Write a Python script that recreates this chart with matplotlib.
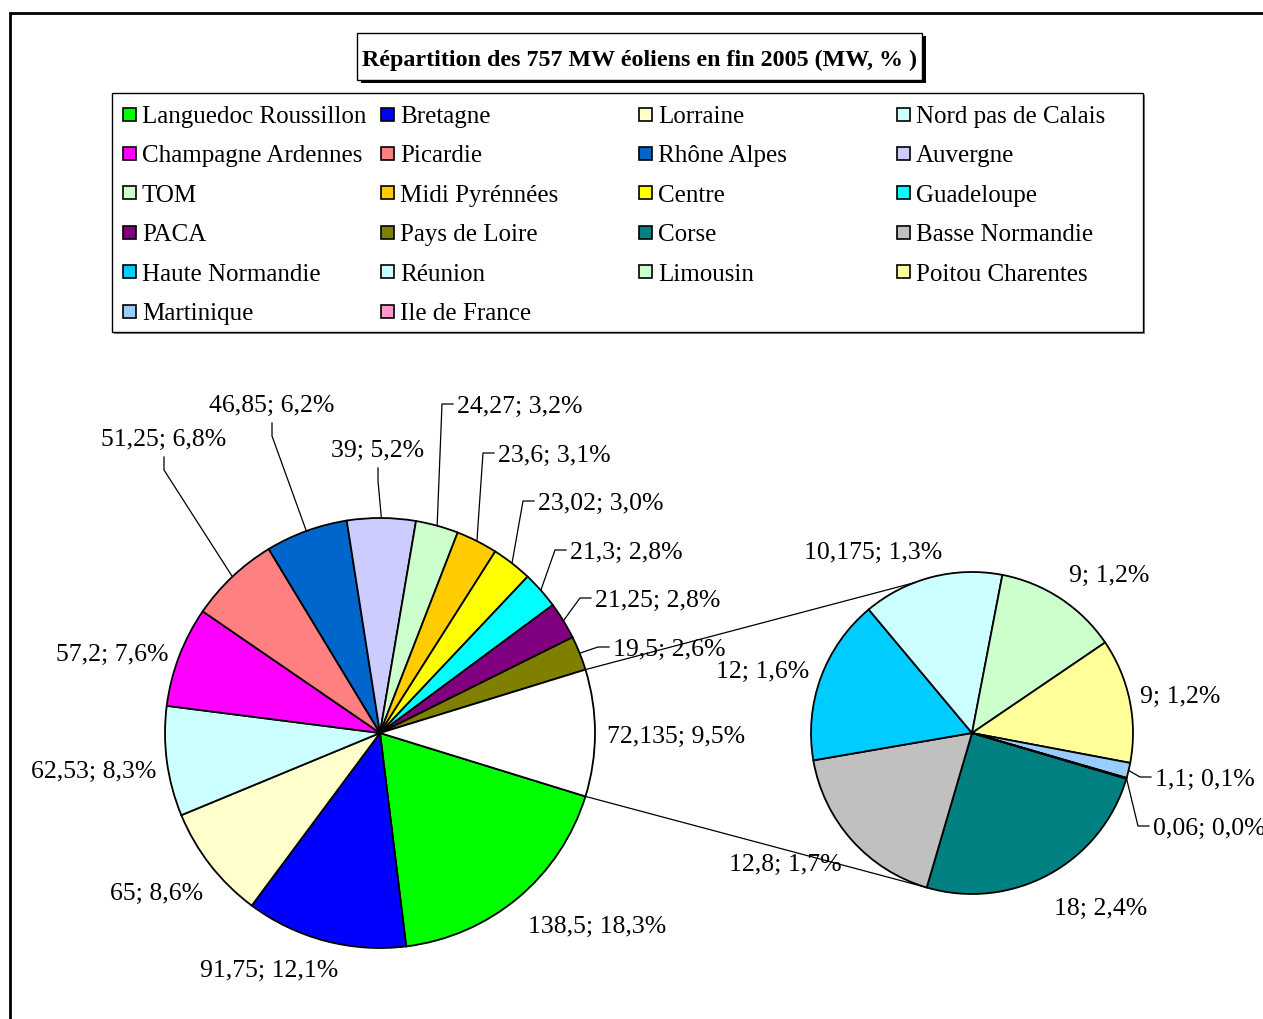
import numpy as np
import matplotlib
matplotlib.use('Agg')
import matplotlib.pyplot as plt
from matplotlib.patches import Rectangle

plt.rcParams['font.family'] = ['Liberation Serif', 'DejaVu Serif']

# Données : puissance éolienne installée fin 2005 (MW) par région
regions = ['Languedoc Roussillon', 'Bretagne', 'Lorraine', 'Nord pas de Calais',
           'Champagne Ardennes', 'Picardie', 'Rhône Alpes', 'Auvergne',
           'TOM', 'Midi Pyrénnées', 'Centre', 'Guadeloupe',
           'PACA', 'Pays de Loire', 'Corse', 'Basse Normandie',
           'Haute Normandie', 'Réunion', 'Limousin', 'Poitou Charentes',
           'Martinique', 'Ile de France']
mw = [138.5, 91.75, 65, 62.53, 57.2, 51.25, 46.85, 39,
      24.27, 23.6, 23.02, 21.3, 21.25, 19.5, 18, 12.8,
      12, 10.175, 9, 9, 1.1, 0.06]
couleurs = ['#00FF00', '#0000FF', '#FFFFCC', '#CCFFFF',
            '#FF00FF', '#FF8080', '#0066CC', '#CCCCFF',
            '#CCFFCC', '#FFCC00', '#FFFF00', '#00FFFF',
            '#800080', '#808000', '#008080', '#C0C0C0',
            '#00CCFF', '#CCFFFF', '#CCFFCC', '#FFFF99',
            '#99CCFF', '#FF99CC']
n_principal = 14   # les 8 dernières régions forment le second camembert
titre = 'Répartition des 757 MW éoliens en fin 2005 (MW, % )'

# Mise en page (pixels, y vers le haut)
W, H = 1263, 1019
C1, R1 = (380, 286), 215
C2, R2 = (972, 286), 161
start2 = -16.5
# position des étiquettes par rapport au centre du camembert : (dx, dy, style)
# style 'c' = centré sans trait, 'h' = trait vers le bas, 'g' = trait à gauche
pos1 = [(217, -191, 'c'), (-111, -235, 'c'), (-223, -158, 'c'), (-286, -36, 'c'),
        (-268, 81, 'c'), (-216, 296, 'h'), (-108, 330, 'h'), (-2, 285, 'h'),
        (77, 329, 'g'), (118, 280, 'g'), (158, 232, 'g'), (190, 183, 'g'),
        (215, 135, 'g'), (233, 86, 'g'), (296, -1, 'c')]
pos2 = [(129, -173, 'c'), (-187, -129, 'c'), (-209, 64, 'c'), (-99, 183, 'c'),
        (137, 160, 'c'), (208, 39, 'c'), (183, -44, 'g'), (181, -93, 'g')]

total = sum(mw)


def fmt(v):
    return f"{v:g}".replace('.', ',') + '; ' + f"{v / total * 100:.1f}".replace('.', ',') + '%'


fig = plt.figure(figsize=(W / 100, H / 100), dpi=100)
ax = fig.add_axes([0, 0, 1, 1])

vals1 = mw[:n_principal] + [sum(mw[n_principal:])]
cols1 = couleurs[:n_principal] + ['white']
vals2 = mw[n_principal:]
cols2 = couleurs[n_principal:]
demi = vals1[-1] / total * 360 / 2

wp = dict(edgecolor='black', linewidth=1.3)
w1, _ = ax.pie(vals1, colors=cols1, center=C1, radius=R1, startangle=-demi,
               counterclock=False, wedgeprops=wp)
w2, _ = ax.pie(vals2, colors=cols2, center=C2, radius=R2, startangle=start2,
               counterclock=False, wedgeprops=wp)

# traits de liaison entre les deux camemberts
for a1, a2 in [(demi, 111), (-demi, w2[0].theta1)]:
    p1 = (C1[0] + R1 * np.cos(np.radians(a1)), C1[1] + R1 * np.sin(np.radians(a1)))
    p2 = (C2[0] + R2 * np.cos(np.radians(a2)), C2[1] + R2 * np.sin(np.radians(a2)))
    ax.plot([p1[0], p2[0]], [p1[1], p2[1]], color='black', lw=0.9)


def etiquettes(wedges, vals, pos, C, R):
    for w, v, (dx, dy, style) in zip(wedges, vals, pos):
        x, y = C[0] + dx, C[1] + dy
        am = np.radians((w.theta1 + w.theta2) / 2)
        bord = (C[0] + R * np.cos(am), C[1] + R * np.sin(am))
        if style == 'h':
            ax.plot([bord[0], x, x], [bord[1], y - 33, y - 20], color='black', lw=0.9)
        elif style == 'g':
            ax.plot([bord[0], x - 15, x - 4], [bord[1], y, y], color='black', lw=0.9)
        ha = 'left' if style == 'g' else 'center'
        ax.text(x, y - 3, fmt(v), fontsize=18.5, ha=ha, va='center')


etiquettes(w1, vals1, pos1, C1, R1)
etiquettes(w2, vals2, pos2, C2, R2)

# cadre extérieur
ax.add_patch(Rectangle((10, -50), 1400, H - 13 + 50, fill=False, ec='black', lw=2))

# titre encadré avec ombre
ax.add_patch(Rectangle((361, H - 83), 565, 47, fc='black', ec='none'))
ax.add_patch(Rectangle((357, H - 80), 565, 47, fc='white', ec='black', lw=1))
ax.text(640, H - 60, titre, fontsize=17.3, fontweight='bold', ha='center', va='center')

# légende (4 colonnes, remplie ligne par ligne)
ax.add_patch(Rectangle((114, H - 334), 1031, 239, fc='#808080', ec='none'))
ax.add_patch(Rectangle((112, H - 332), 1031, 239, fc='white', ec='black', lw=1))
for i, (nom, c) in enumerate(zip(regions, couleurs)):
    lx = 123 + 258 * (i % 4)
    ly = H - (114 + 39.4 * (i // 4))
    ax.add_patch(Rectangle((lx, ly - 6.5), 13, 13, fc=c, ec='black', lw=1.2))
    ax.text(lx + 19, ly - 3, nom, fontsize=18, ha='left', va='center')

ax.set_xlim(0, W)
ax.set_ylim(0, H)
ax.set_aspect('equal')
ax.axis('off')

plt.savefig('out.png', dpi=100, facecolor='white')
